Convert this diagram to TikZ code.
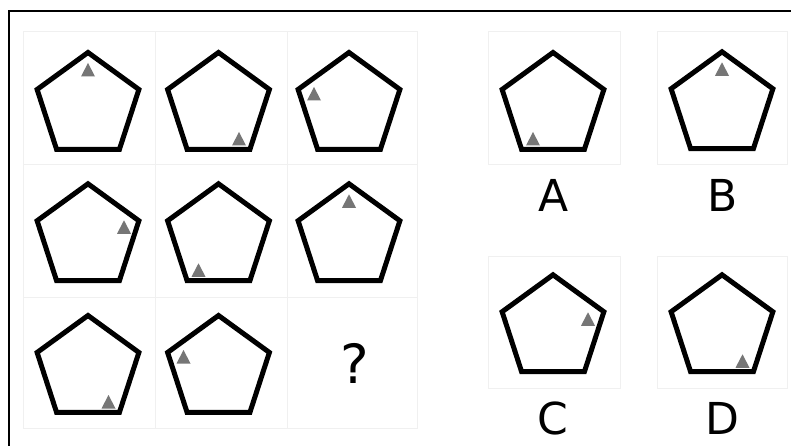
\documentclass[tikz,border=0pt]{standalone}
\usepackage{fontspec}
\setmainfont{DejaVu Sans}
\usetikzlibrary{shapes.geometric}
\definecolor{tricol}{RGB}{118,118,118}
\definecolor{cellcol}{RGB}{240,240,240}
\begin{document}
\begin{tikzpicture}[x=1pt,y=-1pt,
  pent/.style={regular polygon, regular polygon sides=5, minimum size=107pt,
    inner sep=0pt, outer sep=0pt, draw=black, line width=5pt, line join=miter},
  cellbox/.style={draw=cellcol, line width=1pt},
  frameline/.style={draw=black, line width=2pt},
  lbl/.style={font=\fontsize{44}{44}\selectfont, anchor=base, inner sep=0pt},
  qlbl/.style={font=\fontsize{54}{54}\selectfont, anchor=base, inner sep=0pt},
  gtri/.pic={\fill[tricol] (-7,6.5) -- (0,-7) -- (7,6.5) -- cycle;}
]
\useasboundingbox (0,0) rectangle (792,446);
\fill[white] (0,0) rectangle (792,446);

% faint cell boxes
\foreach \x/\xx in {23/155,155/287,287/417}
  \foreach \y/\yy in {32/165,165/297,297/428}
    \draw[cellbox] (\x,\y) rectangle (\xx,\yy);
\draw[cellbox] (488,32) rectangle (620,165);
\draw[cellbox] (657,32) rectangle (787,165);
\draw[cellbox] (488,257) rectangle (620,388);
\draw[cellbox] (657,257) rectangle (787,388);

% frame
\draw[frameline] (9,446) -- (9,11) -- (791,11);

% grid pentagons
\node[pent] (p11) at (88,106) {};
\node[pent] (p12) at (218.5,106) {};
\node[pent] (p13) at (349,106) {};
\node[pent] (p21) at (88,237.3) {};
\node[pent] (p22) at (218.5,237.3) {};
\node[pent] (p23) at (349,237.3) {};
\node[pent] (p31) at (88,369) {};
\node[pent] (p32) at (218.5,369) {};
\node[qlbl] (q) at (355,383.5) {?};

% answer pentagons
\node[pent] (pa) at (553,106) {};
\node[pent] (pb) at (722,105.3) {};
\node[pent] (pc) at (553,328.3) {};
\node[pent] (pd) at (722,328.3) {};

% triangles
\pic at ([shift={(0,-36)}]p11.center) {gtri};
\pic at ([shift={(20.5,33)}]p12.center) {gtri};
\pic at ([shift={(-35,-12)}]p13.center) {gtri};
\pic at ([shift={(36,-10)}]p21.center) {gtri};
\pic at ([shift={(-20,33)}]p22.center) {gtri};
\pic at ([shift={(0,-36)}]p23.center) {gtri};
\pic at ([shift={(20.5,33)}]p31.center) {gtri};
\pic at ([shift={(-35,-12)}]p32.center) {gtri};
\pic at ([shift={(-20,33)}]pa.center) {gtri};
\pic at ([shift={(0,-36)}]pb.center) {gtri};
\pic at ([shift={(35,-9)}]pc.center) {gtri};
\pic at ([shift={(20.5,33)}]pd.center) {gtri};

% labels
\node[lbl] (la) at (554,212) {A};
\node[lbl] (lb) at (723,212) {B};
\node[lbl] (lc) at (553,434.5) {C};
\node[lbl] (ld) at (722,434.5) {D};
\end{tikzpicture}
\end{document}
